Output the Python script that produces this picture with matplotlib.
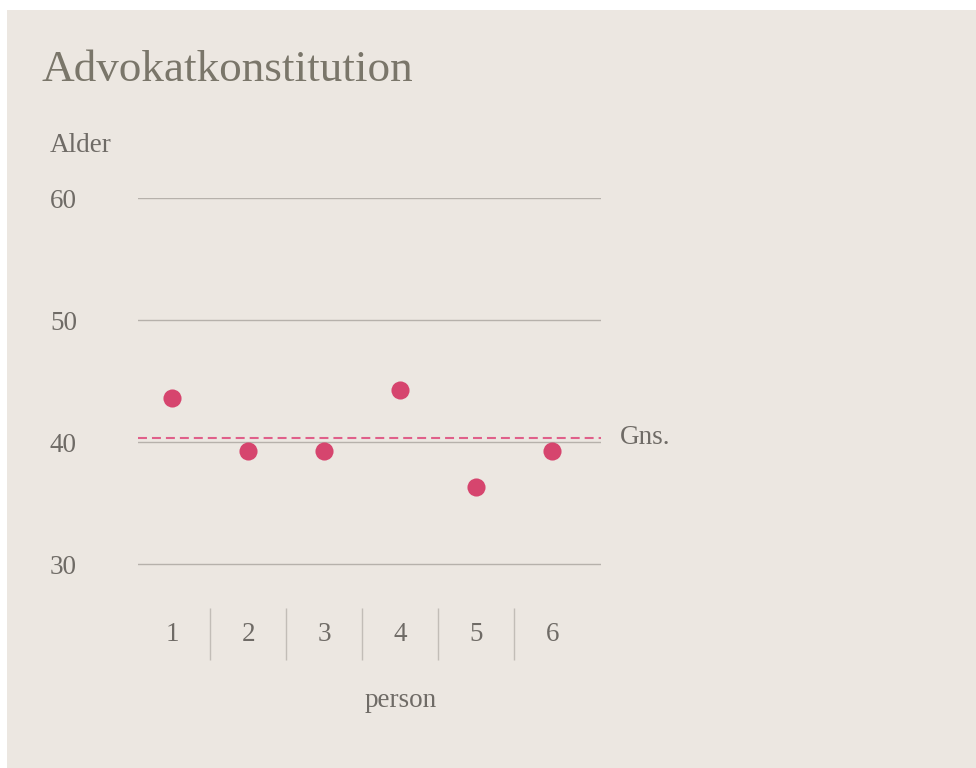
import numpy as np
import matplotlib

matplotlib.use("Agg")
import matplotlib.pyplot as plt
from matplotlib.patches import Rectangle

persons = ["1", "2", "3", "4", "5", "6"]
ages = [43.6, 39.3, 39.3, 44.3, 36.3, 39.3]
y_ticks = [30, 40, 50, 60]
mean_age = np.mean(ages)

BG = "#ece7e1"
TEXT = "#6f6b66"
TITLE = "#7a766a"
GRID = "#b6b1ab"
DOT = "#d6456e"
MEAN = "#e0608a"

W, H = 976, 768
plt.rcParams["font.family"] = ["Liberation Serif", "DejaVu Serif"]

fig = plt.figure(figsize=(W / 100, H / 100), dpi=100, facecolor="white")
fig.patches.append(Rectangle((7 / W, 0), 1, 1 - 10 / H, transform=fig.transFigure,
                             facecolor=BG, edgecolor="none", zorder=-10))


def px_axes(left, top, right, bottom):
    return fig.add_axes([left / W, 1 - bottom / H, (right - left) / W, (bottom - top) / H])


ax = px_axes(138, 198, 601, 660)
ax.set_facecolor("none")
ax.set_xlim(-0.45, 5.64)
ax.set_ylim(60 - 462 / 12.2, 60)
for s in ax.spines.values():
    s.set_visible(False)

x = np.arange(len(persons))
for t in y_ticks:
    ax.axhline(t, color=GRID, linewidth=1.0, zorder=1)
ax.axhline(mean_age, color=MEAN, linewidth=1.5, linestyle=(0, (4.3, 2.4)), zorder=2)
ax.scatter(x, ages, s=170, color=DOT, linewidths=0, zorder=3)

ax.set_yticks(y_ticks)
ax.set_yticklabels([str(t) for t in y_ticks], ha="left", va="bottom")
ax.tick_params(axis="y", length=0, pad=88 * 0.72, labelsize=19.5, labelcolor=TEXT)
for lbl in ax.get_yticklabels():
    lbl.set_verticalalignment("center_baseline")

ax.set_xticks(x)
ax.set_xticklabels(persons)
ax.set_xticks(x[:-1] + 0.5, minor=True)
ax.tick_params(axis="x", which="major", length=0, pad=-27.5, labelsize=19.5, labelcolor=TEXT)
ax.tick_params(axis="x", which="minor", length=52 * 0.72, width=1, direction="in", color="#c2bdb7")

ax.set_xlabel("person", fontsize=19.5, color=TEXT)
ax.xaxis.set_label_coords((401 - 138) / 463, -0.06)

ax.text(1.04, mean_age, "Gns.", transform=ax.get_yaxis_transform(), fontsize=19.5,
        color=TEXT, va="center", ha="left")

fig.text(42 / W, 1 - 70 / H, "Advokatkonstitution", fontsize=32.5, color=TITLE,
         va="center", ha="left")
fig.text(50 / W, 1 - 145 / H, "Alder", fontsize=19.5, color=TEXT, va="center", ha="left")

fig.savefig("out.png", dpi=100, facecolor="white")
